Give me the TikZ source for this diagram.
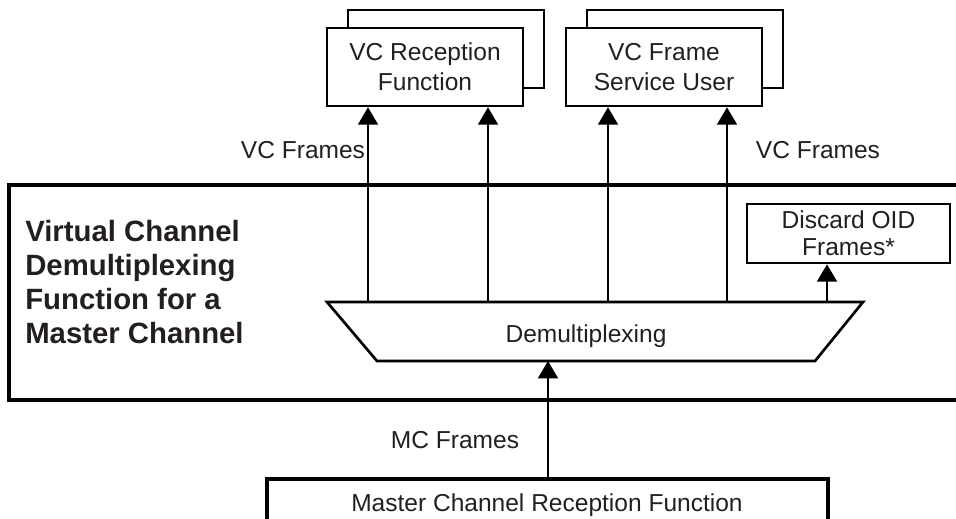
\documentclass[tikz,border=0pt]{standalone}
\usepackage{fontspec}
\setmainfont{Liberation Sans}
\usetikzlibrary{arrows.meta}
\definecolor{ink}{HTML}{231F20}
\begin{document}
\begin{tikzpicture}[x=0.75pt,y=-0.75pt,
  lbl/.style={font=\fontsize{18.4}{22.5}\selectfont, text=ink, inner sep=0pt, align=center},
  boldlbl/.style={font=\fontsize{22}{25.5}\selectfont\bfseries, text=ink, inner sep=0pt, align=left},
  fbox/.style={draw=black, fill=white, line width=2pt, minimum width=147pt, minimum height=58.5pt, inner sep=0pt,
    font=\fontsize{18.4}{22.5}\selectfont, text=ink, align=center},
  arr/.style={draw=black, line width=1.3pt, -{Triangle[width=15pt,length=13pt]}}]
\useasboundingbox (0,0) rectangle (956,518);
% enclosing function box (open to the right)
\node[draw=black, line width=2.4pt, minimum width=720.75pt, minimum height=161.25pt, inner sep=0pt] (vcd) at (489.5,292.5) {};
\node[boldlbl, anchor=west] (title) at (25,282) {Virtual Channel\\Demultiplexing\\Function for a\\Master Channel};
% upper boxes
\node[fbox] (vcrb) at (446,49) {};
\node[fbox] (vcr) at (425,67) {VC Reception\\Function};
\node[fbox] (vcfb) at (685,49) {};
\node[fbox] (vcf) at (664,67) {VC Frame\\Service User};
% discard box
\node[fbox, minimum width=152.25pt, minimum height=44.25pt, font=\fontsize{18.4}{20.25}\selectfont] (disc) at (848.5,233.5) {Discard OID\\Frames*};
% demultiplexing trapezoid
\coordinate (tl) at (327,302);
\coordinate (tr) at (863,302);
\coordinate (br) at (815,361);
\coordinate (bl) at (377,361);
\draw[line width=2pt, line join=miter] (tl) -- (tr) -- (br) -- (bl) -- cycle;
\node[lbl, anchor=base] (demux) at (586,342) {Demultiplexing};
% master channel reception function box
\node[draw=black, line width=2.4pt, minimum width=420.75pt, minimum height=35.25pt, inner sep=0pt] (mcrf) at (547.5,502.5) {};
\node[lbl, anchor=base] (mcrft) at (547,511) {Master Channel Reception Function};
% arrows
\coordinate (s1) at (368,302);
\coordinate (s2) at (488,302);
\coordinate (s3) at (608,302);
\coordinate (s4) at (727,302);
\coordinate (s5) at (827,302);
\coordinate (m1) at (548,361);
\draw[arr] (s1) -- (s1 |- vcr.south);
\draw[arr] (s2) -- (s2 |- vcr.south);
\draw[arr] (s3) -- (s3 |- vcf.south);
\draw[arr] (s4) -- (s4 |- vcf.south);
\draw[arr] (s5) -- (s5 |- disc.south);
\draw[arr] (m1 |- mcrf.north) -- (m1);
% labels
\node[lbl, anchor=base] (vcfl) at (303,158) {VC Frames};
\node[lbl, anchor=base] (vcfr) at (818,158) {VC Frames};
\node[lbl, anchor=base] (mcfl) at (455,448) {MC Frames};
\end{tikzpicture}
\end{document}
